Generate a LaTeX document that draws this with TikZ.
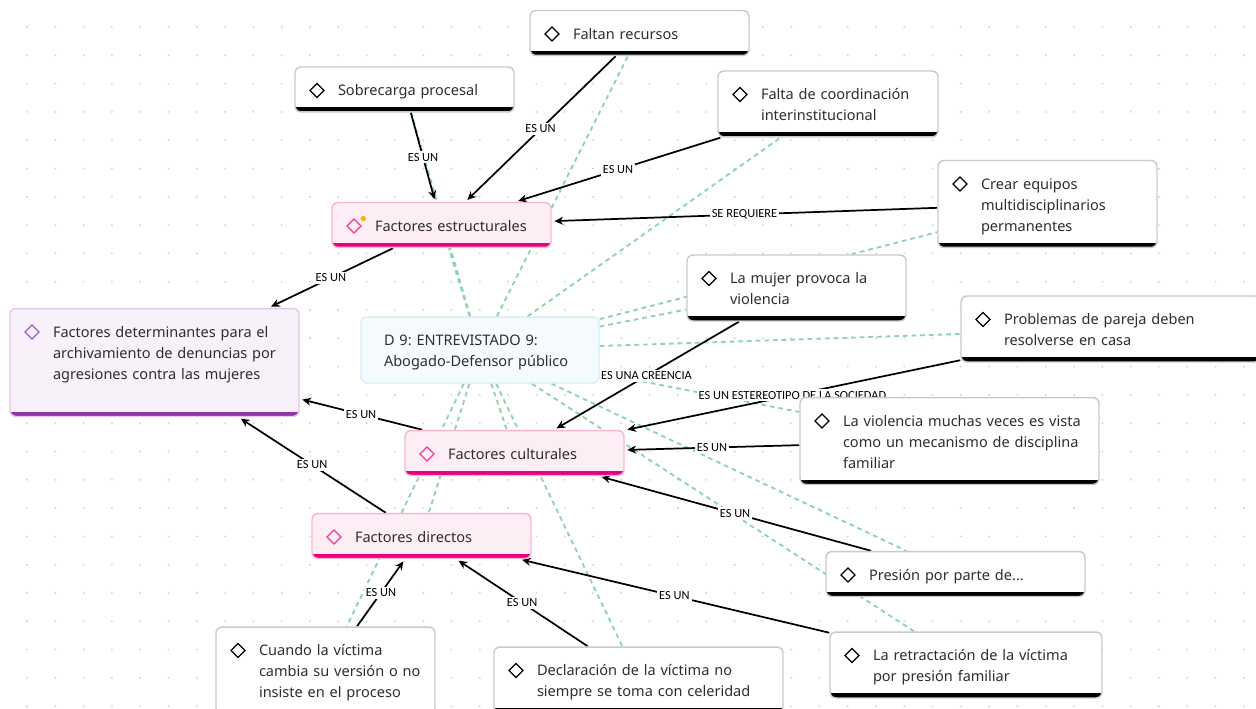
\documentclass[tikz,border=0pt]{standalone}
\usepackage{fontspec}
\usepackage{tikz}
\usetikzlibrary{arrows.meta}
\usetikzlibrary{positioning}
\newfontfamily\nodefont{Noto Sans}
\newfontfamily\linkfont{Carlito}
\frenchspacing
\definecolor{textgray}{HTML}{2E2E2E}
\definecolor{codeline}{HTML}{CACACA}
\definecolor{catline}{HTML}{F8B6D7}
\definecolor{catfill}{HTML}{FDEEF6}
\definecolor{catpink}{HTML}{E8007F}
\definecolor{iconpink}{HTML}{EC3D96}
\definecolor{detline}{HTML}{E2C8EE}
\definecolor{detfill}{HTML}{F8F1FA}
\definecolor{detpurple}{HTML}{8E35A6}
\definecolor{iconpurple}{HTML}{A45CC8}
\definecolor{docline}{HTML}{D6EFF6}
\definecolor{docfill}{HTML}{F5FBFD}
\definecolor{quotegreen}{HTML}{8ED4AE}
\definecolor{gridgray}{HTML}{D4D4D4}
\definecolor{dotyellow}{HTML}{F4B400}
\pgfdeclarelayer{bg}
\pgfdeclarelayer{quotes}
\pgfdeclarelayer{links}
\pgfsetlayers{bg,quotes,links,main}
% bottom bar and diamond icon of a box
\newcommand\iconbar[2]{%
  \fill[#1, sharp corners] (path picture bounding box.south west) rectangle ([yshift=3.4pt]path picture bounding box.south east);
  \draw[#2, line width=0.9pt, sharp corners, line join=miter] ([xshift=16.5pt,yshift=-12.4pt]path picture bounding box.north west)
    -- ++(5.2pt,-5.2pt) -- ++(-5.2pt,-5.2pt) -- ++(-5.2pt,5.2pt) -- cycle;}
\tikzset{
  box/.style={rounded corners=4.5pt, inner xsep=0pt, inner ysep=7.6pt, align=left,
    font=\nodefont\fontsize{10.9}{15.75}\selectfont, text=textgray, line width=1.1pt,
    execute at begin node={\leftskip=32.25pt\rule{0pt}{13.8pt}}, execute at end node={\strut}},
  codebox/.style={box, draw=codeline, fill=white, text width=#1*0.75pt, path picture={\iconbar{black}{black}}},
  catbox/.style={box, draw=catline, fill=catfill, text width=#1*0.75pt, path picture={\iconbar{catpink}{iconpink}}},
  detbox/.style={box, draw=detline, fill=detfill, text width=#1*0.75pt, path picture={\iconbar{detpurple}{iconpurple}}},
  docbox/.style={box, draw=docline, fill=docfill, text width=#1*0.75pt,
    execute at begin node={\leftskip=17.25pt\rule{0pt}{13.8pt}}},
  link/.style={line width=1.3pt, -{Stealth[length=6.5pt,width=6pt]}, shorten >=2pt},
  lbl/.style={fill=white, inner sep=1.5pt, font=\linkfont\fontsize{9.3}{10}\selectfont, text=black},
  quote/.style={quotegreen, line width=1.4pt, dash pattern=on 3.5pt off 3pt}
}
\begin{document}
\begin{tikzpicture}[x=0.75pt, y=-0.75pt]
  \useasboundingbox (0,0) rectangle (1256,709);
  \begin{pgfonlayer}{bg}
    \fill[white] (0,0) rectangle (1256,709);
    \foreach \i in {0,...,45}
      \foreach \j in {0,...,25}
        \fill[gridgray] ({-1.3+\i*28.3},{-1.3+\j*28.3}) circle (0.8pt);
  \end{pgfonlayer}

  % codes
  \node[codebox=219] (fal) at (639.5,33) {Faltan recursos};
  \node[codebox=219] (sob) at (404.5,89.5) {Sobrecarga procesal};
  \node[codebox=220] (coo) at (828,104) {Falta de coordinación\\interinstitucional};
  \node[codebox=219] (cre) at (1047.5,204) {Crear equipos\\multidisciplinarios\\permanentes};
  \node[codebox=219] (muj) at (796.5,288) {La mujer provoca la\\violencia};
  \node[codebox=300] (pro) at (1111,329) {Problemas de pareja deben\\resolverse en casa};
  \node[codebox=299] (vio) at (949.5,441) {La violencia muchas veces es vista\\como un mecanismo de disciplina\\familiar};
  \node[codebox=259] (pre) at (955.5,574) {Presión por parte de...};
  \node[codebox=219] (cua) at (325.5,670.5) {Cuando la víctima\\cambia su versión o no\\insiste en el proceso};
  \node[codebox=289] (dec) at (638.5,680) {Declaración de la víctima no\\siempre se toma con celeridad};
  \node[codebox=272] (ret) at (966,665) {La retractación de la víctima\\por presión familiar};

  % categories
  \node[catbox=219] (est) at (441.5,225) {Factores estructurales};
  \fill[dotyellow] ([xshift=24pt,yshift=-12.6pt]est.north west) circle (2pt);
  \node[catbox=219] (cul) at (514.5,453) {Factores culturales};
  \node[catbox=219] (dir) at (421.5,536) {Factores directos};
  \node[detbox=289] (det) at (154.5,362.5) {Factores determinantes para el\\archivamiento de denuncias por\\agresiones contra las mujeres\\~};

  % document
  \node[docbox=238] (d9) at (480,350) {D 9: ENTREVISTADO 9:\\Abogado-Defensor público};

  \begin{pgfonlayer}{quotes}
    \foreach \n in {sob,fal,coo,cre,est,muj,pro,vio,cul,dir,pre,cua,dec,ret}
      \draw[quote] (d9) -- (\n);
  \end{pgfonlayer}

  \begin{pgfonlayer}{links}
    \draw[link] (fal) -- node[lbl] {ES UN} (est);
    \draw[link] (sob) -- node[lbl] {ES UN} (est);
    \draw[link] (coo) -- node[lbl] {ES UN} (est);
    \draw[link] (cre) -- node[lbl] {SE REQUIERE} (est);
    \draw[link] (est) -- node[lbl] {ES UN} (det);
    \draw[link] (cul) -- node[lbl] {ES UN} (det);
    \draw[link] (dir) -- node[lbl] {ES UN} (det);
    \draw[link] (muj) -- node[lbl] {ES UNA CREENCIA} (cul);
    \draw[link] (pro) -- node[lbl] {ES UN ESTEREOTIPO DE LA SOCIEDAD} (cul);
    \draw[link] (vio) -- node[lbl] {ES UN} (cul);
    \draw[link] (pre) -- node[lbl] {ES UN} (cul);
    \draw[link] (cua) -- node[lbl] {ES UN} (dir);
    \draw[link] (dec) -- node[lbl] {ES UN} (dir);
    \draw[link] (ret) -- node[lbl] {ES UN} (dir);
  \end{pgfonlayer}
\end{tikzpicture}
\end{document}
